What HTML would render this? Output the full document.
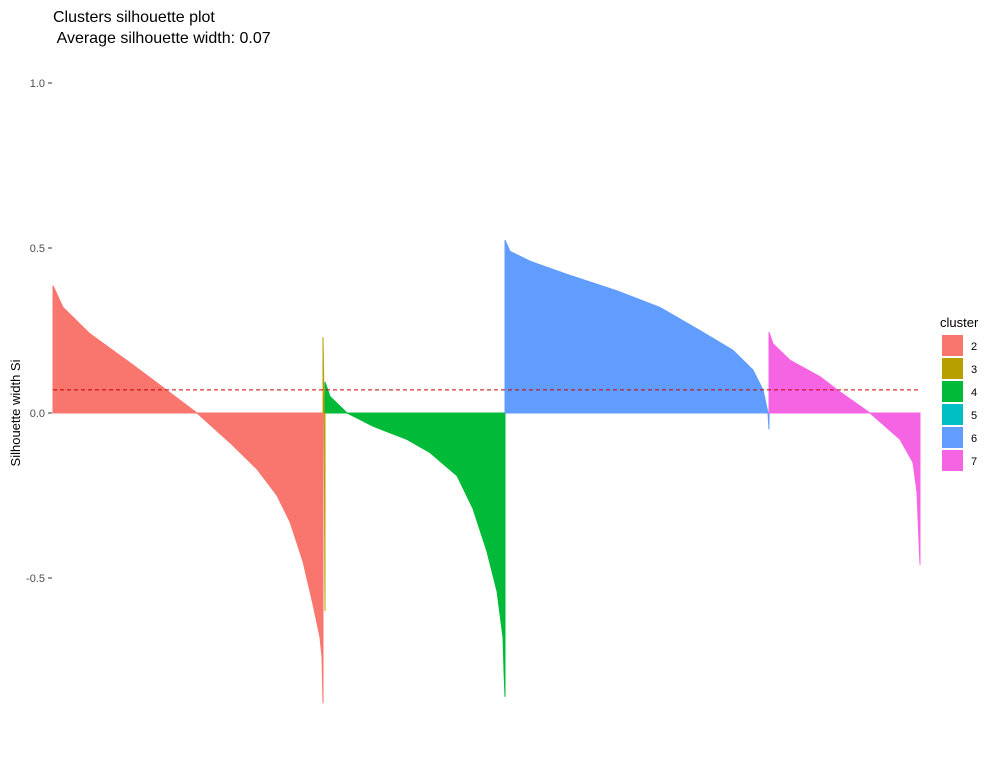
<!DOCTYPE html>
<html><head><meta charset="utf-8"><style>
body{margin:0;background:#fff;font-family:"Liberation Sans",Arial,sans-serif}
</style></head><body>
<svg id="chart" width="1000" height="764" xmlns="http://www.w3.org/2000/svg">
<text x="53" y="22" font-size="16" fill="#000">Clusters silhouette plot</text>
<text x="53" y="43" font-size="16" fill="#000" xml:space="preserve"> Average silhouette width: 0.07</text>
<text transform="translate(20,413) rotate(-90)" text-anchor="middle" font-size="13" fill="#000">Silhouette width Si</text>
<g id="yaxis"></g>
<g id="bars"></g>
<g id="legend"></g>
</svg>
<script>
const clusterNames=["2","3","4","5","6","7"];
const clusterColors=["#F8766D","#B79F00","#00BA38","#00BFC4","#619CFF","#F564E3"];
const ranks2=[0,10,37,87,144,177,204,224,237,250,260,267,269,270];
const vals2=[0.386,0.32,0.24,0.13,0.0,-0.09,-0.17,-0.25,-0.33,-0.45,-0.58,-0.68,-0.74,-0.88];
const ranks3=[270,271,272];
const vals3=[0.23,0.05,-0.6];
const ranks4=[272,277,294,320,354,377,404,420,434,444,450,451,452];
const vals4=[0.094,0.05,0.0,-0.04,-0.08,-0.12,-0.19,-0.29,-0.42,-0.54,-0.68,-0.78,-0.86];
const ranks6=[452,457,477,514,564,607,647,680,700,710,715,716];
const vals6=[0.524,0.49,0.46,0.42,0.37,0.32,0.25,0.19,0.13,0.07,0.0,-0.05];
const ranks7=[716,720,737,767,787,817,847,860,864,866,867];
const vals7=[0.245,0.21,0.16,0.11,0.064,0.0,-0.08,-0.15,-0.24,-0.39,-0.46];
const avgWidth=0.07;
const yTicks=[1.0,0.5,0.0,-0.5];
const yTickLabels=["1.0","0.5","0.0","-0.5"];
const NS="http://www.w3.org/2000/svg";
const X0=53,X1=920,NT=867;
const xs=r=>X0+(r/NT)*(X1-X0);
const ys=v=>413-v*330;
function mk(t,a,p){const e=document.createElementNS(NS,t);for(const k in a)e.setAttribute(k,a[k]);p.appendChild(e);return e;}
const ya=document.getElementById('yaxis');
yTicks.forEach((v,i)=>{
 const l=mk('line',{x1:48,x2:52,y1:ys(v),y2:ys(v),stroke:'#333'},ya);
 
 
 const t=mk('text',{x:45,y:ys(v)+4,'text-anchor':'end','font-size':11,fill:'#4d4d4d'},ya);
 t.textContent=yTickLabels[i];
 
 
});
const series=[[ranks2,vals2,0],[ranks4,vals4,2],[ranks6,vals6,4],[ranks7,vals7,5],[ranks3,vals3,1]];
const bg=document.getElementById('bars');
series.forEach(([r,v,c])=>{
 let pts=[xs(r[0])+','+ys(0)];
 for(let i=0;i<r.length;i++){pts.push(xs(r[i])+','+ys(v[i]));}
 pts.push(xs(r[r.length-1])+','+ys(0));
 const p=mk('polygon',{points:pts.join(' '),fill:clusterColors[c],stroke:clusterColors[c],'stroke-width':1},bg);
 
 
});
const al=mk('line',{x1:X0,x2:X1,y1:ys(avgWidth),y2:ys(avgWidth),stroke:'#cc0000','stroke-dasharray':'4,3','stroke-width':1},bg);


const lg=document.getElementById('legend');
const lt=mk('text',{x:940,y:327,'font-size':13,fill:'#000'},lg);
lt.textContent='cluster';


clusterNames.forEach((n,i)=>{
 const r=mk('rect',{x:942,y:335+i*23,width:21,height:21,fill:clusterColors[i]},lg);
 
 
 const t=mk('text',{x:971,y:350+i*23,'font-size':11,fill:'#000'},lg);
 t.textContent=n;
 
 
});
</script>
</body></html>
